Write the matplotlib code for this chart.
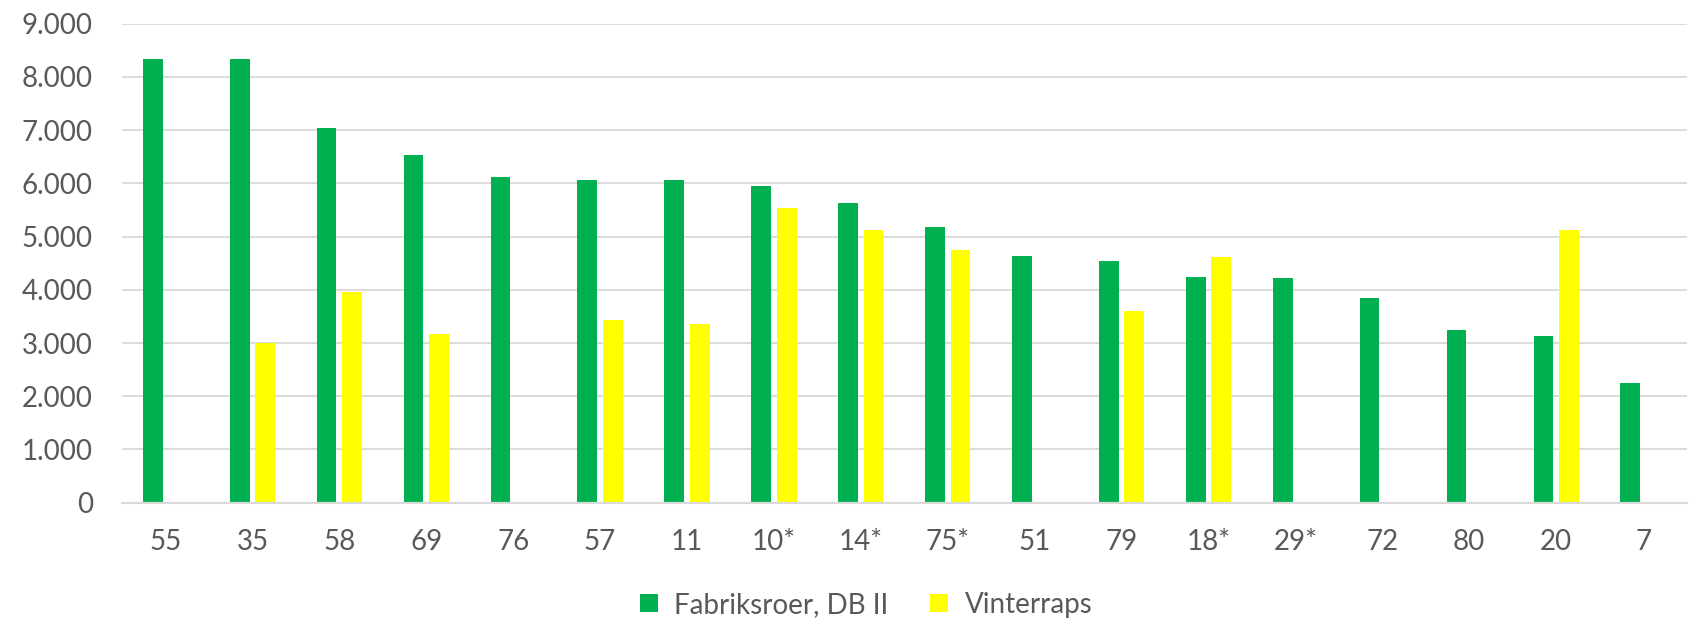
import numpy as np
import matplotlib.pyplot as plt

# data
categories = ['55', '35', '58', '69', '76', '57', '11', '10*', '14*', '75*',
              '51', '79', '18*', '29*', '72', '80', '20', '7']
fabriksroer = [8340, 8330, 7035, 6535, 6115, 6070, 6070, 5945, 5635, 5185,
               4645, 4535, 4245, 4215, 3855, 3250, 3140, 2255]
vinterraps = [np.nan, 3010, 3960, 3175, np.nan, 3425, 3365, 5540, 5120, 4745,
              np.nan, 3600, 4610, np.nan, np.nan, np.nan, 5125, np.nan]

plt.rcParams['font.family'] = ['Lato', 'DejaVu Sans']
text_col = '#595959'
grid_col = '#d9d9d9'

fig = plt.figure(figsize=(16.95, 6.26), dpi=100)
ax = fig.add_axes([0.072, 0.197, 0.923, 0.765])

x = np.arange(len(categories))
w = 0.227
off = w / 2 + 0.033
ax.bar(x - off, fabriksroer, width=w, color='#00B050', zorder=3,
       label='Fabriksroer, DB II')
ax.bar(x + off, vinterraps, width=w, color='#FFFF00', zorder=3,
       label='Vinterraps')

ax.set_xlim(-0.5, len(categories) - 0.5)
ax.set_ylim(0, 9000)
ticks = np.arange(0, 9001, 1000)
ax.set_yticks(ticks)
ax.set_yticklabels([f'{t:,}'.replace(',', '.') for t in ticks])
ax.set_xticks(x)
ax.set_xticklabels(categories)

ax.grid(axis='y', color=grid_col, linewidth=1.3, zorder=0)
for s in ['top', 'right', 'left']:
    ax.spines[s].set_visible(False)
ax.spines['bottom'].set_color(grid_col)
ax.spines['bottom'].set_linewidth(1.6)
ax.spines['bottom'].set_zorder(4)
ax.tick_params(axis='both', length=0, labelsize=20, labelcolor=text_col)
ax.tick_params(axis='y', pad=21)
ax.tick_params(axis='x', pad=19)

fig.legend(loc='center', bbox_to_anchor=(0.511, 0.034), ncol=2, frameon=False,
           fontsize=20, labelcolor=text_col, handlelength=0.65, handleheight=0.65,
           columnspacing=1.5, handletextpad=0.6)

fig.savefig('out.png', dpi=100)
